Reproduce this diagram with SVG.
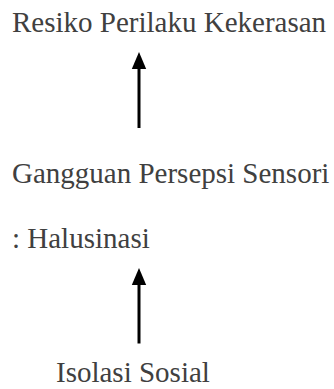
<svg xmlns="http://www.w3.org/2000/svg" width="334" height="389" viewBox="0 0 334 389">
<style>
text{font-family:"Liberation Serif","Times New Roman",serif;font-size:29px;fill:#404040}
.c{stroke:#000;stroke-width:3;fill:none}
.h{fill:#000;stroke:none}
</style>
<rect width="334" height="389" fill="#fff"/>
<g id="n1"><text x="12" y="32">Resiko Perilaku Kekerasan</text></g>
<g id="n2"><text x="12" y="182.5">Gangguan Persepsi Sensori</text><text x="12" y="247.5">: Halusinasi</text></g>
<g id="n3"><text x="56" y="382">Isolasi Sosial</text></g>
<g id="connectors">
<line class="c" x1="139" y1="128" x2="139" y2="66"/>
<polygon class="h" points="139,52 131.8,69 146.2,69"/>
<line class="c" x1="139" y1="343.5" x2="139" y2="282"/>
<polygon class="h" points="139,268 131.8,285 146.2,285"/>
</g>
</svg>
